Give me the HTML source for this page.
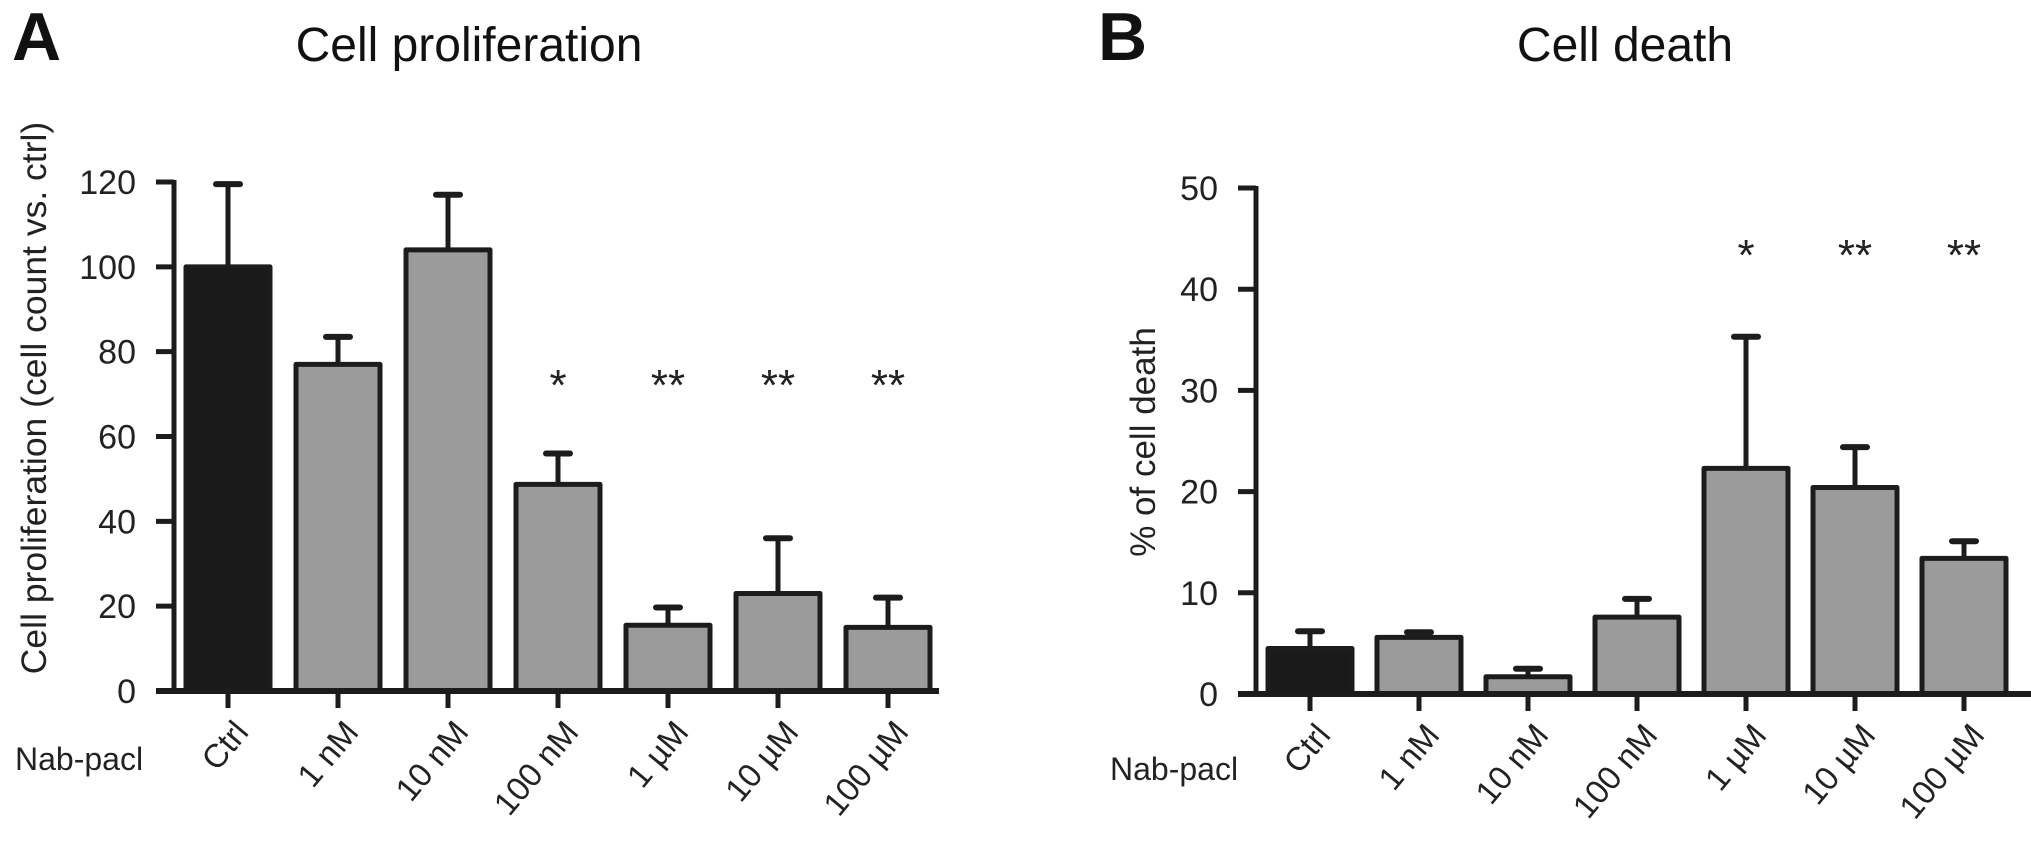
<!DOCTYPE html>
<html><head><meta charset="utf-8"><style>
html,body{margin:0;padding:0;background:#fff;width:2031px;height:849px;overflow:hidden}
svg{display:block;font-family:"Liberation Sans",Arial,sans-serif}
</style></head><body>
<svg id="fig" width="2031" height="849" viewBox="0 0 2031 849" xmlns="http://www.w3.org/2000/svg">
<text x="12" y="60" font-size="68" font-weight="bold" fill="#111">A</text>
<text x="469" y="61" font-size="48" text-anchor="middle" fill="#111">Cell proliferation</text>
<text x="1098" y="60" font-size="68" font-weight="bold" fill="#111">B</text>
<text x="1625" y="61" font-size="48" text-anchor="middle" fill="#111">Cell death</text>
<text transform="translate(46,398) rotate(-90)" font-size="35.5" text-anchor="middle" fill="#222">Cell proliferation (cell count vs. ctrl)</text>
<text transform="translate(1155,442) rotate(-90)" font-size="35" text-anchor="middle" fill="#222">% of cell death</text>
<text x="15" y="770" font-size="32" fill="#222">Nab-pacl</text>
<text x="1110" y="780" font-size="32" fill="#222">Nab-pacl</text>
<g id="panelA"></g>
<g id="panelB"></g>
</svg>
<script>
const categories = ["Ctrl","1 nM","10 nM","100 nM","1 \u00b5M","10 \u00b5M","100 \u00b5M"];
const prolifValues = [100,77,104,48.7,15.5,23,15];
const prolifErrors = [19.5,6.5,13,7.3,4.2,13,7];
const prolifSig = ["","","","*","**","**","**"];
const prolifTicks = [0,20,40,60,80,100,120];
const deathValues = [4.5,5.6,1.7,7.6,22.3,20.4,13.4];
const deathErrors = [1.7,0.5,0.8,1.8,13,4,1.7];
const deathSig = ["","","","","*","**","**"];
const deathTicks = [0,10,20,30,40,50];

const NS="http://www.w3.org/2000/svg";
function mk(parent,tag,attrs){const e=document.createElementNS(NS,tag);for(const k in attrs)e.setAttribute(k,attrs[k]);parent.appendChild(e);return e;}

function drawPanel(g,cfg){
  const yScale=v=>cfg.y0-(v-cfg.min)*(cfg.y0-cfg.yTop)/(cfg.max-cfg.min);
  const xC=i=>cfg.axisX+cfg.firstOffset+i*cfg.step;
  const col="#1c1c1c";
  const ya=mk(g,'line',{x1:cfg.axisX,y1:yScale(cfg.max)-2,x2:cfg.axisX,y2:cfg.y0+2,stroke:col,'stroke-width':5});
  
  
  cfg.ticks.forEach(t=>{
    const y=yScale(t);
    const tl=mk(g,'line',{x1:cfg.axisX-18,y1:y,x2:cfg.axisX,y2:y,stroke:col,'stroke-width':5});
    
    
    const tx=mk(g,'text',{x:cfg.axisX-38,y:y+12,'font-size':34,'text-anchor':'end',fill:'#222'});
    tx.textContent=t;
    
    
  });
  cfg.values.forEach((v,i)=>{
    const cx=xC(i),w=cfg.barW,top=yScale(v),ey=yScale(v+cfg.errors[i]);
    const el=mk(g,'line',{x1:cx,y1:ey,x2:cx,y2:top,stroke:col,'stroke-width':5});
    
    
    const cap=mk(g,'line',{x1:cx-12,y1:ey,x2:cx+12,y2:ey,stroke:col,'stroke-width':6,'stroke-linecap':'round'});
    
    
    const r=mk(g,'rect',{x:cx-w/2,y:top,width:w,height:cfg.y0-top,fill:i===0?'#1a1a1a':'#9b9b9b',stroke:col,'stroke-width':5,'stroke-linejoin':'round'});
    
    
    const xt=mk(g,'line',{x1:cx,y1:cfg.y0,x2:cx,y2:cfg.y0+17,stroke:col,'stroke-width':5});
    
    
    const lb=mk(g,'text',{transform:`translate(${cx+22},${cfg.y0+42}) rotate(-50)`,'font-size':33,'text-anchor':'end',fill:'#222'});
    lb.textContent=categories[i];
    
    
    if(cfg.sig[i]){
      const s=mk(g,'text',{x:cx,y:cfg.sigY,'font-size':44,'text-anchor':'middle',fill:'#222'});
      s.textContent=cfg.sig[i];
      
      
    }
  });
  const xa=mk(g,'line',{x1:cfg.axisX-18,y1:cfg.y0,x2:cfg.xEnd,y2:cfg.y0,stroke:col,'stroke-width':6});
  
  
}
drawPanel(document.getElementById('panelA'),{axisX:174,y0:691,yTop:182,min:0,max:120,firstOffset:54,step:110,barW:84,xEnd:939,ticks:prolifTicks,values:prolifValues,errors:prolifErrors,sig:prolifSig,sigY:400});
drawPanel(document.getElementById('panelB'),{axisX:1256,y0:694,yTop:188,min:0,max:50,firstOffset:54,step:109,barW:84,xEnd:2031,ticks:deathTicks,values:deathValues,errors:deathErrors,sig:deathSig,sigY:270});
</script>
</body></html>
